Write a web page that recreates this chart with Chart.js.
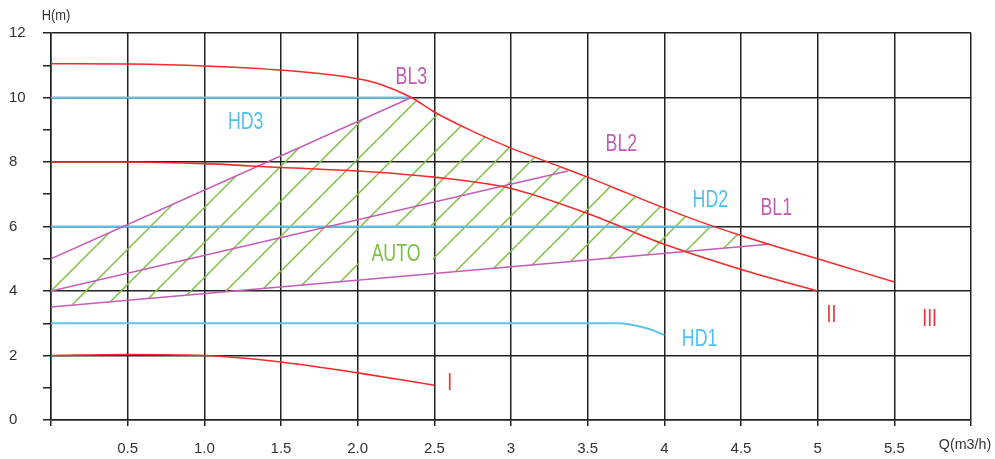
<!DOCTYPE html>
<html>
<head>
<meta charset="utf-8">
<script src="https://cdn.jsdelivr.net/npm/chart.js@4.4.0/dist/chart.umd.min.js"></script>
<style>
html, body { margin: 0; padding: 0; background: #fff; }
#wrap { width: 995px; height: 459px; }
</style>
</head>
<body>
<div id="wrap"><canvas id="pumpChart" width="995" height="459"></canvas></div>
<script>
var FONT = '"Liberation Sans", Arial, sans-serif';

// tick labels
var xTickLabels = ['', '0.5', '1.0', '1.5', '2.0', '2.5', '3', '3.5', '4', '4.5', '5', '5.5', ''];
var yTickLabels = ['0', '', '2', '', '4', '', '6', '', '8', '', '10', '', '12'];

// pump curves, speed I / II / III
var curve1Q = [0, 0.5, 1.0, 1.5, 2.0, 2.5];
var curve1H = [2.0, 2.03, 2.0, 1.8, 1.46, 1.08];

var curve2Q = [0, 0.5, 1.0, 1.5, 2.0, 2.5, 3.0, 3.5, 4.0, 4.5, 5.0];
var curve2H = [8.0, 8.0, 7.95, 7.83, 7.72, 7.53, 7.18, 6.4, 5.45, 4.67, 4.0];

var curve3Q = [0, 0.5, 1.0, 1.5, 2.0, 2.16, 2.35, 2.5, 2.75, 3.0, 3.25, 3.5, 3.75, 4.0, 4.25, 4.5, 4.75, 5.0, 5.25, 5.5];
var curve3H = [11.05, 11.04, 10.98, 10.85, 10.58, 10.39, 10.0, 9.55, 8.95, 8.43, 7.98, 7.53, 7.05, 6.57, 6.12, 5.72, 5.35, 5.0, 4.64, 4.28];

// proportional pressure lines
var bl1Q = [0, 4.68];
var bl1H = [3.5, 5.45];
var bl2Q = [0, 3.37];
var bl2H = [4.0, 7.72];
var bl3Q = [0, 2.35];
var bl3H = [5.0, 10.0];

// constant pressure lines
var hd1Q = [0, 3.7, 3.88, 4.0];
var hd1H = [3.0, 3.0, 2.85, 2.64];
var hd2Q = [0, 4.33];
var hd2H = [6.0, 6.0];
var hd3Q = [0, 2.35];
var hd3H = [10.0, 10.0];

// AUTO area edges
var autoTopQ = [0, 2.35, 2.5, 2.75, 3.0, 3.25, 3.5, 3.75, 4.0, 4.25, 4.5, 4.68];
var autoTopH = [5.0, 10.0, 9.55, 8.95, 8.43, 7.98, 7.53, 7.05, 6.57, 6.12, 5.72, 5.45];
var autoBottomQ = [0, 0.15, 4.68];
var autoBottomH = [4.0, 3.56, 5.45];

// text on the chart
var notes = [
    { text: 'HD3', q: 1.27, h: 9.27, color: '#4fc0ee' },
    { text: 'BL3', q: 2.35, h: 10.67, color: '#c25bb5' },
    { text: 'BL2', q: 3.72, h: 8.59, color: '#c25bb5' },
    { text: 'HD2', q: 4.3, h: 6.85, color: '#4fc0ee' },
    { text: 'BL1', q: 4.73, h: 6.6, color: '#c25bb5' },
    { text: 'AUTO', q: 2.25, h: 5.18, color: '#7cc043' },
    { text: 'HD1', q: 4.23, h: 2.54, color: '#4fc0ee' },
    { text: 'I', q: 2.6, h: 1.18, color: '#e8323a' },
    { text: 'II', q: 5.09, h: 3.26, color: '#e8323a' },
    { text: 'III', q: 5.73, h: 3.16, color: '#e8323a' }
];

function pts(qs, hs) {
    var out = [];
    for (var i = 0; i < qs.length; i++) out.push({ x: qs[i], y: hs[i] });
    return out;
}

// diagonal hatch
var HATCH = 35;
function makeHatch() {
    var c = document.createElement('canvas');
    c.width = HATCH;
    c.height = HATCH;
    var g = c.getContext('2d');
    g.strokeStyle = '#7cc043';
    g.lineWidth = 1.5;
    for (var k = -1; k <= 1; k++) {
        g.beginPath();
        g.moveTo(k * HATCH, HATCH);
        g.lineTo(k * HATCH + HATCH, 0);
        g.stroke();
    }
    return document.getElementById('pumpChart').getContext('2d').createPattern(c, 'repeat');
}
var hatch = makeHatch();

function curve(data, color, width, smooth) {
    return {
        data: data,
        borderColor: color,
        borderWidth: width,
        pointRadius: 0,
        fill: false,
        cubicInterpolationMode: smooth ? 'monotone' : 'default',
        tension: 0
    };
}

var RED = '#f52a2a', PURPLE = '#c45cb8', BLUE = '#5ec4ee';

var datasets = [
    curve(pts(curve3Q, curve3H), RED, 1.5, true),
    curve(pts(curve2Q, curve2H), RED, 1.6, true),
    curve(pts(curve1Q, curve1H), RED, 1.6, true),
    curve(pts(bl3Q, bl3H), PURPLE, 1.5, false),
    curve(pts(bl2Q, bl2H), PURPLE, 1.5, false),
    curve(pts(bl1Q, bl1H), PURPLE, 1.5, false),
    curve(pts(hd3Q, hd3H), BLUE, 2, false),
    curve(pts(hd2Q, hd2H), BLUE, 2, false),
    curve(pts(hd1Q, hd1H), BLUE, 2, true),
    {
        data: pts(autoTopQ, autoTopH),
        borderColor: 'transparent',
        borderWidth: 1,
        pointRadius: 0,
        tension: 0,
        backgroundColor: hatch,
        fill: '+1'
    },
    {
        data: pts(autoBottomQ, autoBottomH),
        borderColor: 'transparent',
        borderWidth: 1,
        pointRadius: 0,
        tension: 0,
        fill: false
    }
];
var HATCH_INDEX = 9;

function bl1At(q) {
    return bl1H[0] + (bl1H[1] - bl1H[0]) * (q - bl1Q[0]) / (bl1Q[1] - bl1Q[0]);
}

function narrowText(ctx, text, x, y, sx) {
    ctx.save();
    ctx.translate(x, y);
    ctx.scale(sx, 1);
    ctx.fillText(text, 0, 0);
    ctx.restore();
}

var decor = {
    id: 'decor',
    beforeDraw: function(chart) {
        var xs = chart.scales.x, ys = chart.scales.y;
        var off = (xs.getPixelForValue(0) + ys.getPixelForValue(4)) % HATCH;
        hatch.setTransform(new DOMMatrix().translate(off, 0));
    },
    afterDatasetDraw: function(chart, args) {
        if (args.index !== HATCH_INDEX) return;
        // white box behind AUTO
        var ctx = chart.ctx, xs = chart.scales.x, ys = chart.scales.y;
        var l = xs.getPixelForValue(2.0) + 1.5, r = xs.getPixelForValue(2.5) - 1.5;
        ctx.save();
        ctx.fillStyle = '#fff';
        ctx.beginPath();
        ctx.moveTo(l, ys.getPixelForValue(6) + 1.5);
        ctx.lineTo(r, ys.getPixelForValue(6) + 1.5);
        ctx.lineTo(r, ys.getPixelForValue(bl1At(2.5)));
        ctx.lineTo(l, ys.getPixelForValue(bl1At(2.0)));
        ctx.closePath();
        ctx.fill();
        ctx.restore();
    },
    afterDatasetsDraw: function(chart) {
        var ctx = chart.ctx, xs = chart.scales.x, ys = chart.scales.y, area = chart.chartArea;
        ctx.save();
        ctx.textAlign = 'center';
        ctx.textBaseline = 'middle';
        ctx.font = '24px ' + FONT;
        notes.forEach(function(n) {
            ctx.fillStyle = n.color;
            narrowText(ctx, n.text, xs.getPixelForValue(n.q), ys.getPixelForValue(n.h) + 1, 0.74);
        });
        ctx.fillStyle = '#333';
        ctx.font = '15px ' + FONT;
        narrowText(ctx, 'H(m)', area.left + 5, area.top - 17, 0.86);
        narrowText(ctx, 'Q(m3/h)', area.right - 6, area.bottom + 25, 0.95);
        ctx.restore();
    }
};

new Chart(document.getElementById('pumpChart'), {
    type: 'line',
    data: { datasets: datasets },
    options: {
        responsive: false,
        animation: false,
        layout: { padding: { left: 9, top: 33, right: 24, bottom: 0 } },
        plugins: {
            legend: { display: false },
            tooltip: { enabled: false }
        },
        scales: {
            x: {
                type: 'linear',
                min: 0,
                max: 6,
                afterFit: function(s) { s.height = 39; },
                ticks: {
                    stepSize: 0.5,
                    autoSkip: false,
                    maxRotation: 0,
                    padding: 14,
                    color: '#333',
                    font: { family: FONT, size: 15 },
                    callback: function(v, i) { return xTickLabels[i]; }
                },
                grid: { color: '#222', lineWidth: 1.5, tickLength: 6, tickColor: '#222' },
                border: { color: '#222', width: 1.5 }
            },
            y: {
                min: 0,
                max: 12,
                afterFit: function(s) { s.width = 42; },
                ticks: {
                    stepSize: 1,
                    autoSkip: false,
                    crossAlign: 'far',
                    color: '#333',
                    font: { family: FONT, size: 15 },
                    callback: function(v, i) { return yTickLabels[i]; }
                },
                grid: {
                    color: function(c) { return c.tick && c.tick.value % 2 ? 'transparent' : '#222'; },
                    tickColor: '#222',
                    lineWidth: 1.5,
                    tickLength: 8
                },
                border: { color: '#222', width: 1.5 }
            }
        }
    },
    plugins: [decor]
});
</script>
</body>
</html>
